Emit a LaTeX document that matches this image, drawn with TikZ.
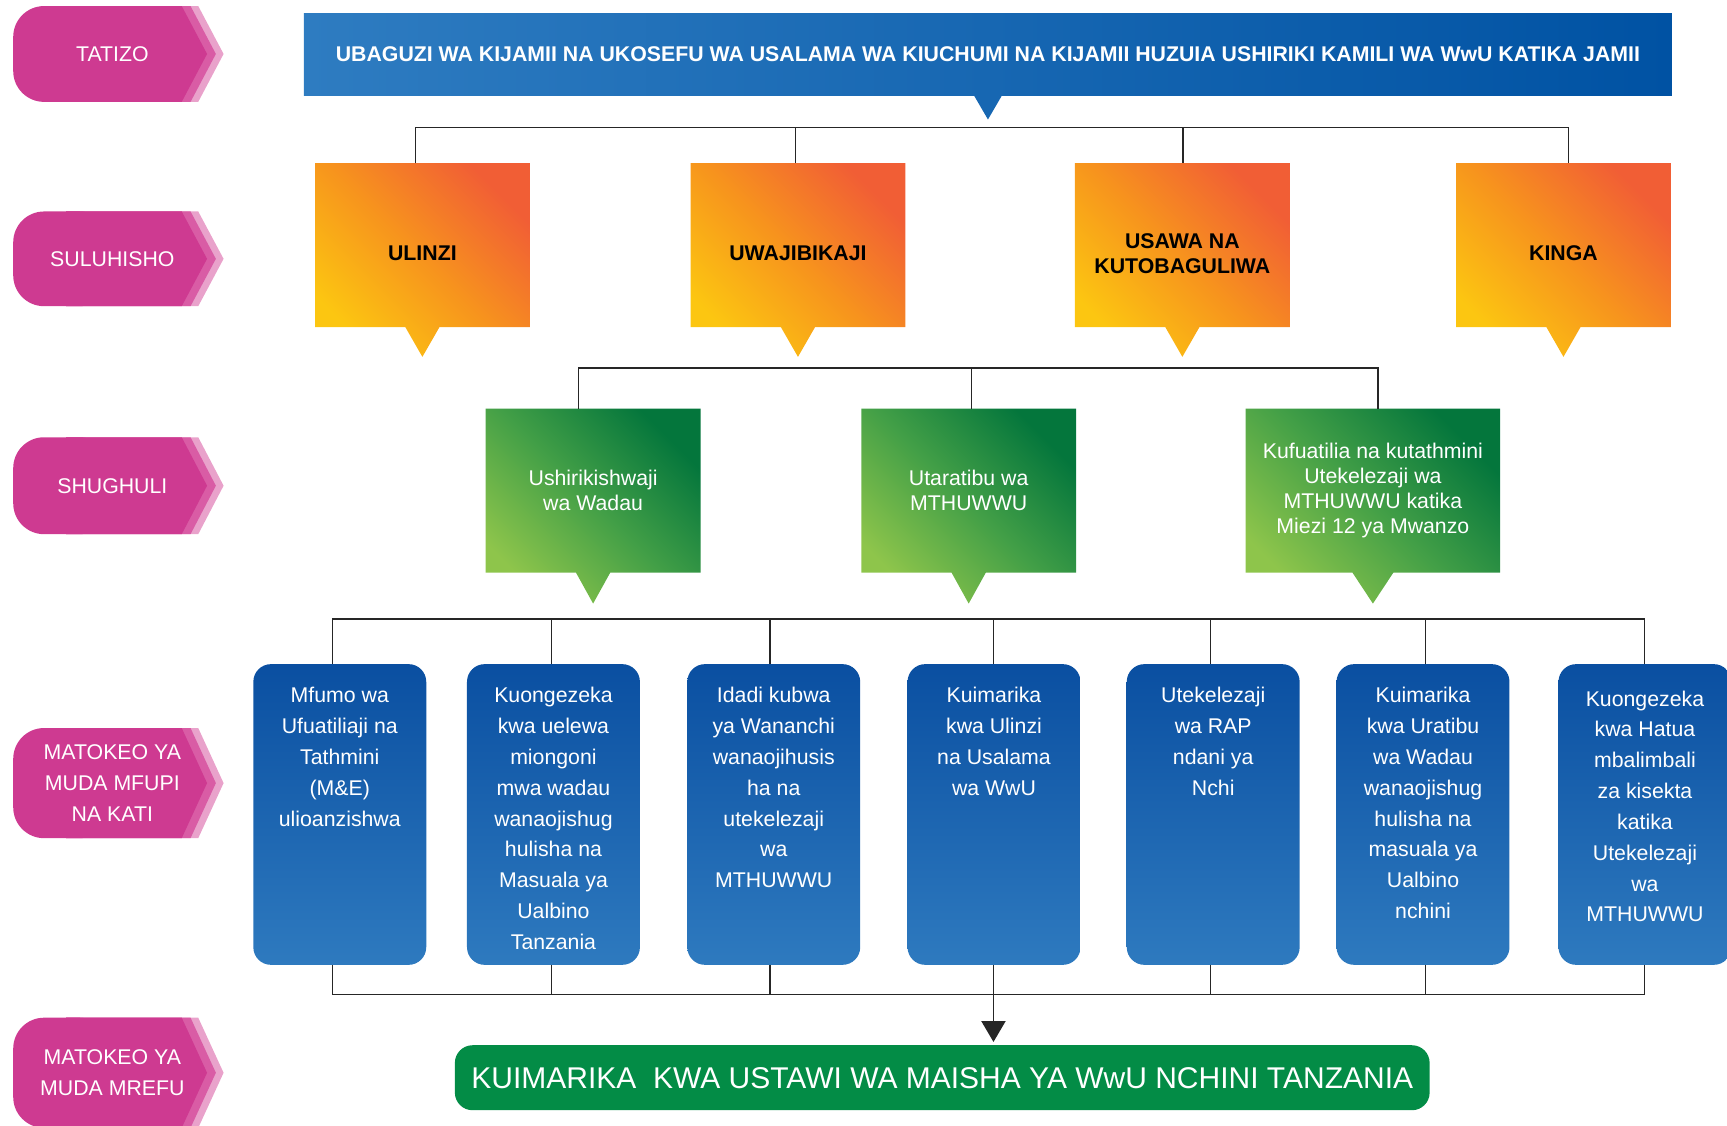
\documentclass[tikz,border=0pt]{standalone}
\usepackage{fontspec}
\setmainfont{Liberation Sans}
\usetikzlibrary{shapes.callouts}
\usetikzlibrary{arrows.meta}

\definecolor{tagdark}{HTML}{CE3A91}
\definecolor{tagmid}{HTML}{D95CA5}
\definecolor{taglight}{HTML}{E9A2CB}
\definecolor{titleleft}{HTML}{2E7CC1}
\definecolor{titleright}{HTML}{0052A3}
\definecolor{orangetop}{HTML}{F15E35}
\definecolor{orangemid}{HTML}{F7941D}
\definecolor{orangebot}{HTML}{FCC611}
\definecolor{greentop}{HTML}{04763C}
\definecolor{greenmid}{HTML}{44A047}
\definecolor{greenbot}{HTML}{8EC54B}
\definecolor{bluetop}{HTML}{0A4FA1}
\definecolor{bluebot}{HTML}{2E7ABF}
\definecolor{goalgreen}{HTML}{038C46}

\begin{document}
\begin{tikzpicture}[x=0.2mm,y=-0.2mm,inner sep=0pt,outer sep=0pt,
conn/.style={draw=black!85,line width=0.25mm},
tagtext/.style={text=white,align=center,font=\fontsize{11pt}{15.9pt}\selectfont},
probbox/.style={rectangle callout,minimum width=248.4mm,minimum height=15mm,left color=titleleft,right color=titleright,callout relative pointer={(0,-4.3mm)},callout pointer width=5mm,text=white,font=\bfseries\fontsize{11pt}{13pt}\selectfont},
solbox/.style={rectangle callout,minimum width=39mm,minimum height=29.8mm,top color=orangetop,bottom color=orangebot,middle color=orangemid,shading angle=-45,callout relative pointer={(0,-5.4mm)},callout pointer width=6.2mm,align=center,font=\bfseries\fontsize{11pt}{13pt}\selectfont,execute at begin node={\rule{0pt}{15.9pt}}},
actbox/.style={rectangle callout,minimum width=39mm,minimum height=29.8mm,top color=greentop,bottom color=greenbot,middle color=greenmid,shading angle=-45,callout relative pointer={(0,-5.6mm)},callout pointer width=6.2mm,align=center,text=white,font=\fontsize{11pt}{13pt}\selectfont},
outbox/.style={rounded corners=3.2mm,minimum width=31.4mm,minimum height=54.6mm,top color=bluetop,bottom color=bluebot,text=white,font=\fontsize{11pt}{15.94pt}\selectfont},
goalbox/.style={rounded corners=3.2mm,fill=goalgreen,minimum width=177mm,minimum height=11.8mm,text=white,font=\fontsize{15.5pt}{18pt}\selectfont}]

\useasboundingbox (0,0) rectangle (1568,1022);

\foreach \n/\y/\h/\t in {tatizo/49/43.5/TATIZO,suluhisho/235/43/SULUHISHO,shughuli/441/44/SHUGHULI,mfupi/711/50/{MATOKEO YA\\MUDA MFUPI\\NA KATI},mrefu/974/50/{MATOKEO YA\\MUDA MREFU}}
{
\fill[taglight] (60,\y-\h) -- (180,\y-\h) -- (203,\y) -- (180,\y+\h) -- (60,\y+\h) -- cycle;
\fill[tagmid] (60,\y-\h) -- (173,\y-\h) -- (196,\y) -- (173,\y+\h) -- (60,\y+\h) -- cycle;
\fill[tagdark,rounded corners=5.6mm] (12,\y-\h) rectangle (100,\y+\h);
\fill[tagdark] (60,\y-\h) -- (165,\y-\h) -- (188,\y) -- (165,\y+\h) -- (60,\y+\h) -- cycle;
\node[tagtext] (\n) at (102,\y) {\t};
}

\node[probbox] (ubaguzi) at (897,49.5) {UBAGUZI WA KIJAMII NA UKOSEFU WA USALAMA WA KIUCHUMI NA KIJAMII HUZUIA USHIRIKI KAMILI WA WwU KATIKA JAMII};

\node[solbox] (ulinzi) at (383.5,222.5) {ULINZI};
\node[solbox] (uwaji) at (724.5,222.5) {UWAJIBIKAJI};
\node[solbox] (usawa) at (1073.5,222.5) {\rule{0pt}{17pt}USAWA NA\\KUTOBAGULIWA};
\node[solbox] (kinga) at (1419.5,222.5) {KINGA};

\draw[conn] (377,116 |- ulinzi.north) |- (1424,116) -- (1424,116 |- kinga.north);
\foreach \x/\n in {722/uwaji,1074/usawa}
\draw[conn] (\x,116) -- (\x,116 |- \n.north);

\node[actbox] (wadau) at (538.5,445.5) {Ushirikishwaji\\wa Wadau};
\node[actbox] (utaratibu) at (879.5,445.5) {Utaratibu wa\\MTHUWWU};
\node[actbox,minimum width=46.2mm,callout pointer width=7.4mm] (ufuatiliaji) at (1246.5,445.5) {Kufuatilia na kutathmini\\Utekelezaji wa\\MTHUWWU katika\\Miezi 12 ya Mwanzo};

\draw[conn] (525,334 |- wadau.north) |- (1251,334) -- (1251,334 |- ufuatiliaji.north);
\draw[conn] (882,334) -- (882,334 |- utaratibu.north);

\foreach \n/\x/\s/\t in {m1/308.5/4.2mm/{Mfumo wa\\Ufuatiliaji na\\Tathmini\\(M\&E)\\ulioanzishwa},
m2/502.5/4.2mm/{Kuongezeka\\kwa uelewa\\miongoni\\mwa wadau\\wanaojishug\\hulisha na\\Masuala ya\\Ualbino\\Tanzania},
m3/702.5/4.2mm/{Idadi kubwa\\ya Wananchi\\wanaojihusis\\ha na\\utekelezaji\\wa\\MTHUWWU},
m4/902.5/4.2mm/{Kuimarika\\kwa Ulinzi\\na Usalama\\wa WwU},
m5/1101.5/4.2mm/{Utekelezaji\\wa RAP\\ndani ya\\Nchi},
m6/1292/4.2mm/{Kuimarika\\kwa Uratibu\\wa Wadau\\wanaojishug\\hulisha na\\masuala ya\\Ualbino\\nchini},
m7/1493.5/4.8mm/{Kuongezeka\\kwa Hatua\\mbalimbali\\za kisekta\\katika\\Utekelezaji\\wa\\MTHUWWU}}
\node[outbox] (\n) at (\x,739.5) {\begin{minipage}[c][54.6mm][t]{31.4mm}\centering\vspace*{\s}\t\end{minipage}};

\draw[conn] (302,562 |- m1.north) |- (1493,562) -- (1493,562 |- m7.north);
\draw[conn] (302,903 |- m1.south) |- (1493,903) -- (1493,903 |- m7.south);
\foreach \x/\n in {501/m2,699/m3,902/m4,1099/m5,1294/m6}
{
\draw[conn] (\x,562) -- (\x,562 |- \n.north);
\draw[conn] (\x,903 |- \n.south) -- (\x,903);
}

\node[goalbox] (ustawi) at (855.5,978.5) {KUIMARIKA\ \ KWA USTAWI WA MAISHA YA WwU NCHINI TANZANIA};

\draw[conn,-{Triangle[width=4.4mm,length=3.8mm]},shorten >=0.6mm] (902,903) -- (902,903 |- ustawi.north);
\end{tikzpicture}
\end{document}
